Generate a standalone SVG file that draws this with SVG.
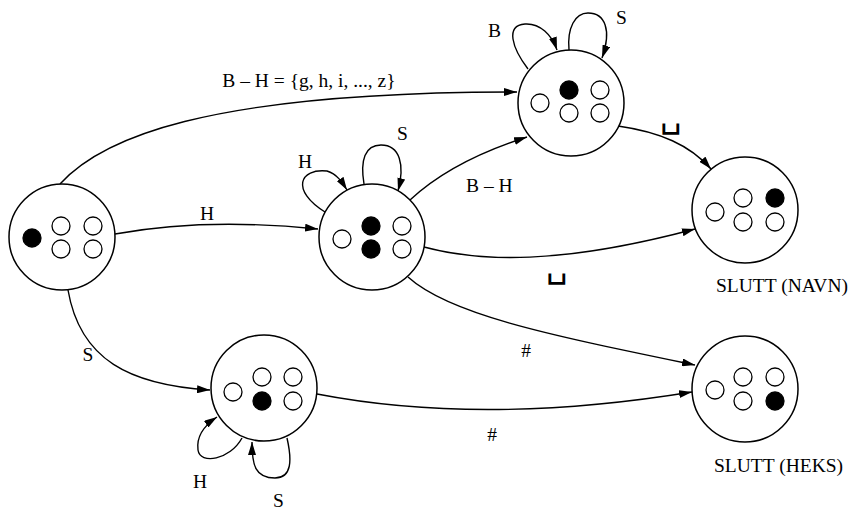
<svg xmlns="http://www.w3.org/2000/svg" width="858" height="510" viewBox="0 0 858 510">
<style>
.st{fill:#fff;stroke:#000;stroke-width:1.5}
.dot{fill:#fff;stroke:#000;stroke-width:1.3}
.on{fill:#000;stroke:#000;stroke-width:1.3}
.e{fill:none;stroke:#000;stroke-width:1.4;marker-end:url(#ah)}
.t{font-family:"Liberation Serif","Times New Roman",serif;font-size:19.5px;fill:#000}
.sp{font-family:"DejaVu Sans ExtraLight","DejaVu Sans",sans-serif;font-weight:200;font-size:34px;fill:#000}
</style>
<defs>
<marker id="ah" markerUnits="userSpaceOnUse" markerWidth="13" markerHeight="8" refX="13" refY="4" orient="auto">
<path d="M0,0 L13,4 L0,8 z" fill="#000"/>
</marker>
</defs>
<rect width="858" height="510" fill="#fff"/>
<g id="connectors">
<path class="e" d="M60,184 C100,140 200,92 517,92"/>
<path class="e" d="M115,234 C180,222 250,222 318,229"/>
<path class="e" d="M68,290 C80,360 130,385 210,390"/>
<path class="e" d="M410,200 C440,172 480,152 527,137"/>
<path class="e" d="M424,247 C480,262 560,265 695,229"/>
<path class="e" d="M618,126 C660,132 690,145 711,169"/>
<path class="e" d="M408,277 C450,315 550,335 695,365"/>
<path class="e" d="M317,394 C400,410 520,420 692,392"/>
<path class="e" d="M325,212 C290,190 300,168 327,171 C337,174 342,182 347,190"/>
<path class="e" d="M364,184 C360,160 365,145 381,145 C400,145 405,165 398,191"/>
<path class="e" d="M528,69 C512,48 505,25 525,24 C540,23 552,35 557,50"/>
<path class="e" d="M569,50 C567,28 575,13 588,13 C605,13 612,30 602,58"/>
<path class="e" d="M242,438 C230,460 200,465 198,450 C196,435 205,425 217,417"/>
<path class="e" d="M287,438 C292,460 292,478 275,478 C255,478 252,465 252,442"/>
<text class="t" x="309" y="87" text-anchor="middle">B – H = {g, h, i, ..., z}</text>
<text class="t" x="207" y="220" text-anchor="middle">H</text>
<text class="t" x="88" y="361" text-anchor="middle">S</text>
<text class="t" x="466" y="192">B – H</text>
<text class="sp" x="557" y="277" text-anchor="middle">␣</text>
<text class="sp" x="671" y="127" text-anchor="middle">␣</text>
<text class="t" x="526" y="357" text-anchor="middle">#</text>
<text class="t" x="492" y="441" text-anchor="middle">#</text>
<text class="t" x="298" y="168">H</text>
<text class="t" x="397" y="140">S</text>
<text class="t" x="488" y="37">B</text>
<text class="t" x="616" y="24">S</text>
<text class="t" x="193" y="488">H</text>
<text class="t" x="273" y="507">S</text>
</g>
<g id="start">
<circle class="st" cx="62" cy="237" r="53"/>
<circle class="on" cx="32" cy="238" r="9"/>
<circle class="dot" cx="61" cy="226" r="9"/>
<circle class="dot" cx="93" cy="226" r="9"/>
<circle class="dot" cx="61" cy="249" r="9"/>
<circle class="dot" cx="93" cy="249" r="9"/>
</g>
<g id="middle">
<circle class="st" cx="372" cy="237" r="53"/>
<circle class="dot" cx="342" cy="239" r="9"/>
<circle class="on" cx="371" cy="226" r="9"/>
<circle class="on" cx="371" cy="249" r="9"/>
<circle class="dot" cx="402" cy="226" r="9"/>
<circle class="dot" cx="402" cy="249" r="9"/>
</g>
<g id="top">
<circle class="st" cx="571" cy="103" r="53"/>
<circle class="dot" cx="540" cy="103" r="9"/>
<circle class="on" cx="569" cy="90" r="9"/>
<circle class="dot" cx="600" cy="90" r="9"/>
<circle class="dot" cx="569" cy="113" r="9"/>
<circle class="dot" cx="600" cy="113" r="9"/>
</g>
<g id="bottom">
<circle class="st" cx="264" cy="388" r="53"/>
<circle class="dot" cx="233" cy="392" r="9"/>
<circle class="dot" cx="262" cy="377" r="9"/>
<circle class="dot" cx="293" cy="377" r="9"/>
<circle class="on" cx="262" cy="401" r="9"/>
<circle class="dot" cx="293" cy="401" r="9"/>
</g>
<g id="slutt-navn">
<circle class="st" cx="745" cy="210" r="53"/>
<circle class="dot" cx="715" cy="212" r="9"/>
<circle class="dot" cx="743" cy="198" r="9"/>
<circle class="dot" cx="743" cy="222" r="9"/>
<circle class="on" cx="775" cy="198" r="9"/>
<circle class="dot" cx="775" cy="222" r="9"/>
<text class="t" x="716" y="292">SLUTT (NAVN)</text>
</g>
<g id="slutt-heks">
<circle class="st" cx="745" cy="389" r="53"/>
<circle class="dot" cx="715" cy="390" r="9"/>
<circle class="dot" cx="743" cy="377" r="9"/>
<circle class="dot" cx="743" cy="401" r="9"/>
<circle class="dot" cx="775" cy="377" r="9"/>
<circle class="on" cx="775" cy="401" r="9"/>
<text class="t" x="714" y="472">SLUTT (HEKS)</text>
</g>
</svg>
